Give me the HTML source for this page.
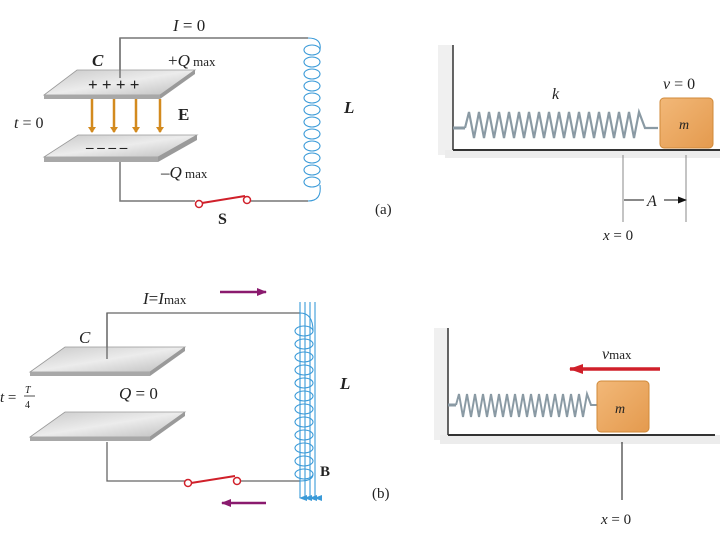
<!DOCTYPE html>
<html><head><meta charset="utf-8"><style>
body{margin:0;background:#fff}
svg{display:block}
text{font-family:"Liberation Serif",serif;fill:#222}
</style></head><body>
<svg width="720" height="540" viewBox="0 0 720 540" xmlns="http://www.w3.org/2000/svg">
<defs>
<linearGradient id="pl" x1="0" y1="0" x2="1" y2="1"><stop offset="0" stop-color="#c8c8c8"/><stop offset="0.5" stop-color="#ececec"/><stop offset="1" stop-color="#bdbdbd"/></linearGradient>
<linearGradient id="blk" x1="0" y1="0" x2="1" y2="1"><stop offset="0" stop-color="#f2b878"/><stop offset="1" stop-color="#e49a4e"/></linearGradient>
<marker id="ao" markerWidth="6" markerHeight="8" refX="5" refY="4" orient="auto" markerUnits="userSpaceOnUse"><path d="M0,0 L6,4 L0,8 z" fill="#d38a1e"/></marker>
<marker id="ap" markerWidth="10" markerHeight="8" refX="9" refY="4" orient="auto" markerUnits="userSpaceOnUse"><path d="M0,0 L10,4 L0,8 z" fill="#8a1a6e"/></marker>
<marker id="ar" markerWidth="14" markerHeight="10" refX="13" refY="5" orient="auto" markerUnits="userSpaceOnUse"><path d="M0,0 L14,5 L0,10 z" fill="#d0202a"/></marker>
<marker id="ak" markerWidth="9" markerHeight="7" refX="8" refY="3.5" orient="auto" markerUnits="userSpaceOnUse"><path d="M0,0 L9,3.5 L0,7 z" fill="#111"/></marker>
<marker id="ab" markerWidth="6" markerHeight="8" refX="3" refY="7" orient="auto" markerUnits="userSpaceOnUse"><path d="M0,0 L3,8 L6,0 z" fill="#3a9ad8"/></marker>
</defs>

<!-- (a) circuit -->
<g stroke="#777" stroke-width="1.5" fill="none">
<polyline points="120,75 120,38 308,38"/>
<polyline points="120,162 120,201 195,201"/>
<line x1="251" y1="201" x2="308" y2="201"/>
</g>
<polygon points="77,70 195,70 160,95 44,95" fill="url(#pl)" stroke="#999" stroke-width="0.8"/>
<polygon points="44,95 160,95 160,99 44,99" fill="#a8a8a8"/>
<polygon points="160,95 195,70 195,74 160,99" fill="#9a9a9a"/>
<line x1="120" y1="38" x2="120" y2="78" stroke="#777" stroke-width="1.5"/>
<text x="88" y="90" font-size="17" font-family="Liberation Sans" font-weight="bold">+ + + +</text>
<g stroke="#d38a1e" stroke-width="2.5" marker-end="url(#ao)">
<line x1="92" y1="99" x2="92" y2="132"/><line x1="114" y1="99" x2="114" y2="132"/><line x1="136" y1="99" x2="136" y2="132"/><line x1="160" y1="99" x2="160" y2="132"/>
</g>
<polygon points="78,135 197,135 158,157 44,157" fill="url(#pl)" stroke="#999" stroke-width="0.8"/>
<polygon points="44,157 158,157 158,162 44,162" fill="#a8a8a8"/>
<polygon points="158,157 197,135 197,140 158,162" fill="#9a9a9a"/>
<text x="86" y="152" font-size="15" font-family="Liberation Sans" font-weight="bold">– – – –</text>
<g stroke="#3a9ad8" stroke-width="1.1" fill="none">
<path d="M308,38 Q322,38 320,50"/>
<ellipse cx="312" cy="50" rx="8" ry="5"/><ellipse cx="312" cy="62" rx="8" ry="5"/><ellipse cx="312" cy="74" rx="8" ry="5"/><ellipse cx="312" cy="86" rx="8" ry="5"/><ellipse cx="312" cy="98" rx="8" ry="5"/><ellipse cx="312" cy="110" rx="8" ry="5"/><ellipse cx="312" cy="122" rx="8" ry="5"/><ellipse cx="312" cy="134" rx="8" ry="5"/><ellipse cx="312" cy="146" rx="8" ry="5"/><ellipse cx="312" cy="158" rx="8" ry="5"/><ellipse cx="312" cy="170" rx="8" ry="5"/><ellipse cx="312" cy="182" rx="8" ry="5"/>
<path d="M320,185 Q322,201 308,201"/>
</g>
<line x1="202" y1="203" x2="245" y2="196" stroke="#d0202a" stroke-width="2"/>
<circle cx="199" cy="204" r="3.5" fill="#fff" stroke="#d0202a" stroke-width="1.5"/>
<circle cx="247" cy="200" r="3.5" fill="#fff" stroke="#d0202a" stroke-width="1.5"/>
<text x="173" y="31" font-size="17" font-style="italic">I<tspan font-style="normal"> = 0</tspan></text>
<text x="92" y="66" font-size="17" font-style="italic" font-weight="bold">C</text>
<text x="168" y="66" font-size="17">+<tspan font-style="italic">Q</tspan><tspan font-size="13"> max</tspan></text>
<text x="178" y="120" font-size="17" font-weight="bold">E</text>
<text x="14" y="128" font-size="16"><tspan font-style="italic">t</tspan> = 0</text>
<text x="161" y="178" font-size="17">–<tspan font-style="italic">Q</tspan><tspan font-size="13"> max</tspan></text>
<text x="218" y="224" font-size="16" font-weight="bold">S</text>
<text x="344" y="113" font-size="17" font-style="italic" font-weight="bold">L</text>
<text x="375" y="214" font-size="15">(a)</text>

<!-- (b) circuit -->
<g stroke="#666" stroke-width="1.3" fill="none">
<polyline points="107,360 107,313 300,313"/>
<polyline points="107,442 107,481 185,481"/>
<line x1="240" y1="481" x2="300" y2="481"/>
</g>
<polygon points="65,347 185,347 150,372 30,372" fill="url(#pl)" stroke="#999" stroke-width="0.8"/>
<polygon points="30,372 150,372 150,376 30,376" fill="#a8a8a8"/>
<polygon points="150,372 185,347 185,351 150,376" fill="#9a9a9a"/>
<line x1="107" y1="313" x2="107" y2="359" stroke="#666" stroke-width="1.3"/>
<polygon points="65,412 185,412 150,437 30,437" fill="url(#pl)" stroke="#999" stroke-width="0.8"/>
<polygon points="30,437 150,437 150,441 30,441" fill="#a8a8a8"/>
<polygon points="150,437 185,412 185,416 150,441" fill="#9a9a9a"/>
<g stroke="#3a9ad8" stroke-width="1.1" fill="none">
<ellipse cx="304" cy="331" rx="9" ry="5"/><ellipse cx="304" cy="344" rx="9" ry="5"/><ellipse cx="304" cy="357" rx="9" ry="5"/><ellipse cx="304" cy="370" rx="9" ry="5"/><ellipse cx="304" cy="383" rx="9" ry="5"/><ellipse cx="304" cy="396" rx="9" ry="5"/><ellipse cx="304" cy="409" rx="9" ry="5"/><ellipse cx="304" cy="422" rx="9" ry="5"/><ellipse cx="304" cy="435" rx="9" ry="5"/><ellipse cx="304" cy="448" rx="9" ry="5"/><ellipse cx="304" cy="461" rx="9" ry="5"/><ellipse cx="304" cy="474" rx="9" ry="5"/>
<path d="M300,313 Q313,313 313,331"/><path d="M313,474 Q313,481 300,481"/>
<g marker-end="url(#ab)"><line x1="300" y1="302" x2="300" y2="498"/><line x1="305" y1="302" x2="305" y2="498"/><line x1="310" y1="302" x2="310" y2="498"/><line x1="315" y1="302" x2="315" y2="498"/></g>
</g>
<line x1="191" y1="483" x2="235" y2="476" stroke="#d0202a" stroke-width="2"/>
<circle cx="188" cy="483" r="3.5" fill="#fff" stroke="#d0202a" stroke-width="1.5"/>
<circle cx="237" cy="481" r="3.5" fill="#fff" stroke="#d0202a" stroke-width="1.5"/>
<line x1="220" y1="292" x2="266" y2="292" stroke="#8a1a6e" stroke-width="2.5" marker-end="url(#ap)"/>
<line x1="266" y1="503" x2="222" y2="503" stroke="#8a1a6e" stroke-width="2.5" marker-end="url(#ap)"/>
<text x="143" y="304" font-size="17" font-style="italic">I<tspan font-style="normal">=</tspan>I<tspan font-style="normal" font-size="13">max</tspan></text>
<text x="79" y="343" font-size="17" font-style="italic">C</text>
<text x="0" y="402" font-size="15"><tspan font-style="italic">t</tspan> =</text>
<text x="25" y="393" font-size="10" font-style="italic">T</text>
<line x1="24" y1="396" x2="35" y2="396" stroke="#222" stroke-width="0.8"/>
<text x="25" y="408" font-size="10">4</text>
<text x="119" y="399" font-size="17"><tspan font-style="italic">Q</tspan> = 0</text>
<text x="340" y="389" font-size="17" font-style="italic" font-weight="bold">L</text>
<text x="320" y="476" font-size="15" font-weight="bold">B</text>
<text x="372" y="498" font-size="15">(b)</text>

<!-- top right spring -->
<rect x="438" y="45" width="15" height="110" fill="#f0f0f0"/>
<rect x="445" y="150" width="275" height="8" fill="#ececec"/>
<line x1="453" y1="45" x2="453" y2="150" stroke="#333" stroke-width="1.5"/>
<line x1="453" y1="150" x2="720" y2="150" stroke="#333" stroke-width="2"/>
<line x1="453" y1="128" x2="465" y2="128" stroke="#8a9aa4" stroke-width="3"/>
<polyline points="465,128 469,112 474,138 479,112 484,138 489,112 494,138 499,112 504,138 509,112 514,138 519,112 524,138 529,112 534,138 539,112 544,138 549,112 554,138 559,112 564,138 569,112 574,138 579,112 584,138 589,112 594,138 599,112 604,138 609,112 614,138 619,112 624,138 629,112 634,138 639,112 645,128 658,128" fill="none" stroke="#8a9aa4" stroke-width="2.2"/>
<rect x="660" y="98" width="53" height="50" rx="4" fill="url(#blk)" stroke="#d08a3a"/>
<text x="679" y="129" font-size="14" font-style="italic">m</text>
<text x="552" y="99" font-size="16" font-style="italic">k</text>
<text x="663" y="89" font-size="16"><tspan font-style="italic">v</tspan> = 0</text>
<line x1="623" y1="155" x2="623" y2="222" stroke="#888"/>
<line x1="686" y1="155" x2="686" y2="222" stroke="#888"/>
<line x1="624" y1="200" x2="644" y2="200" stroke="#111"/>
<line x1="664" y1="200" x2="686" y2="200" stroke="#111" marker-end="url(#ak)"/>
<text x="647" y="206" font-size="16" font-style="italic">A</text>
<text x="603" y="240" font-size="15"><tspan font-style="italic">x</tspan> = 0</text>

<!-- bottom right spring -->
<rect x="434" y="328" width="14" height="112" fill="#f0f0f0"/>
<rect x="440" y="435" width="280" height="9" fill="#ececec"/>
<line x1="448" y1="328" x2="448" y2="435" stroke="#333" stroke-width="1.5"/>
<line x1="448" y1="435" x2="715" y2="435" stroke="#333" stroke-width="2"/>
<line x1="448" y1="405" x2="456" y2="405" stroke="#8a9aa4" stroke-width="3"/>
<polyline points="456,405 459,394 463,417 467,394 471,417 475,394 479,417 483,394 487,417 491,394 495,417 499,394 503,417 507,394 511,417 515,394 519,417 523,394 527,417 531,394 535,417 539,394 543,417 547,394 551,417 555,394 559,417 563,394 567,417 571,394 575,417 579,394 583,417 587,394 591,405 597,405" fill="none" stroke="#8a9aa4" stroke-width="2"/>
<rect x="597" y="381" width="52" height="51" rx="4" fill="url(#blk)" stroke="#d08a3a"/>
<text x="615" y="413" font-size="14" font-style="italic">m</text>
<line x1="660" y1="369" x2="570" y2="369" stroke="#d0202a" stroke-width="3.5" marker-end="url(#ar)"/>
<text x="602" y="359" font-size="16"><tspan font-style="italic">v</tspan><tspan font-size="13">max</tspan></text>
<line x1="622" y1="442" x2="622" y2="500" stroke="#111"/>
<text x="601" y="524" font-size="15"><tspan font-style="italic">x</tspan> = 0</text>
</svg>
</body></html>
